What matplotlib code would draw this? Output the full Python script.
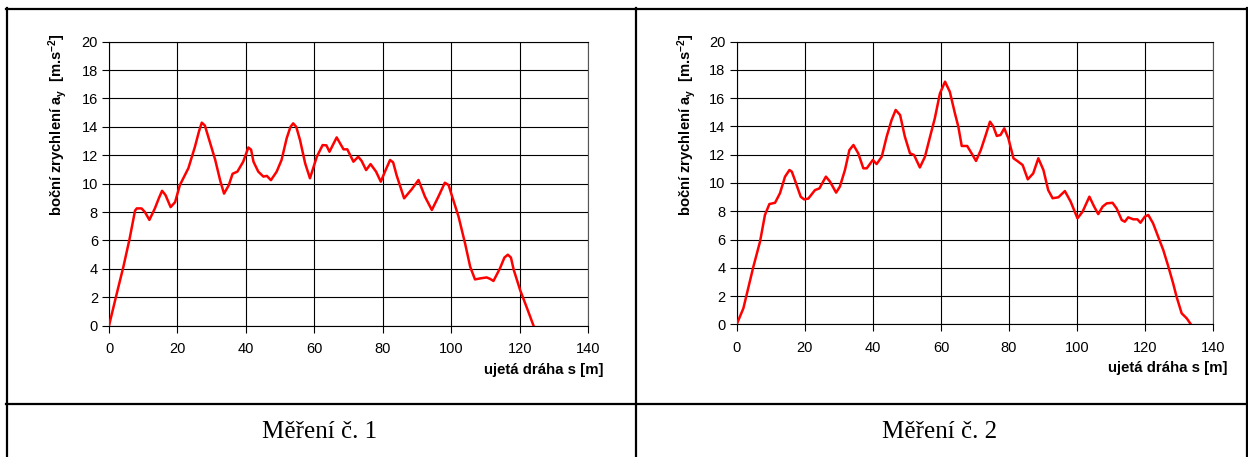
import matplotlib
matplotlib.use("Agg")
import matplotlib.pyplot as plt
from matplotlib.lines import Line2D

plt.rcParams['font.family'] = ['Liberation Sans', 'DejaVu Sans']
plt.rcParams['mathtext.fontset'] = 'custom'
plt.rcParams['mathtext.rm'] = 'Liberation Sans:bold'
plt.rcParams['mathtext.bf'] = 'Liberation Sans:bold'
plt.rcParams['mathtext.default'] = 'bf'

# ---- data ----
s1 = [0, 2.0, 4.2, 6.0, 7.6, 8.1, 9.5, 10.5, 11.8, 13.4, 14.6, 15.5, 16.5, 18.0, 19.3,
      20.7, 23.2, 25.1, 26.3, 27.1, 28.0, 29.0, 31.0, 32.5, 33.6, 35.0, 36.1, 37.5, 39.2,
      40.7, 41.5, 42.2, 43.6, 45.1, 46.1, 47.3, 48.98, 50.4, 51.9, 53.0, 53.8, 54.7, 55.8,
      57.3, 58.7, 60.7, 62.4, 63.5, 64.4, 66.5, 68.5, 69.6, 71.4, 72.8, 73.8, 75.1, 76.4,
      78.0, 79.4, 80.6, 82.1, 83.0, 84.0, 86.2, 88.4, 90.4, 92.3, 94.3, 96.2, 98.1, 99.2,
      100.1, 102.1, 104.0, 105.5, 106.9, 108.4, 110.3, 111.3, 112.3, 114.2, 115.5, 116.5,
      117.4, 118.2, 120.1, 122.0, 124.0]
a1 = [0, 2.0, 4.15, 6.1, 8.1, 8.26, 8.26, 8.0, 7.45, 8.26, 9.0, 9.5, 9.2, 8.35, 8.7,
      9.9, 11.1, 12.6, 13.7, 14.3, 14.1, 13.3, 11.7, 10.2, 9.3, 9.9, 10.7, 10.85, 11.55,
      12.55, 12.4, 11.55, 10.85, 10.5, 10.55, 10.25, 10.85, 11.67, 13.2, 14.0, 14.25, 14.0, 13.07,
      11.43, 10.38, 11.9, 12.72, 12.7, 12.25, 13.26, 12.42, 12.42, 11.55, 11.9, 11.6, 10.96, 11.38,
      10.85, 10.14, 10.85, 11.67, 11.5, 10.6, 8.97, 9.6, 10.26, 9.08, 8.15, 9.08, 10.07, 9.9,
      9.2, 7.68, 5.8, 4.15, 3.26, 3.33, 3.4, 3.3, 3.15, 4.04, 4.8, 5.0,
      4.8, 3.95, 2.5, 1.3, 0.0]

s2 = [0, 1.96, 4.9, 6.85, 8.3, 9.6, 11.26, 12.7, 14.2, 15.5, 16.2, 17.1, 18.8, 19.8, 21.05,
      23.0, 24.3, 26.2, 27.4, 29.2, 30.3, 31.8, 33.1, 34.3, 35.7, 37.2, 38.2, 40.0, 41.1,
      42.6, 44.05, 45.5, 46.7, 48.0, 49.4, 50.9, 52.1, 53.8, 55.3, 56.8, 58.2, 59.7, 61.2,
      62.6, 64.1, 65.1, 66.1, 67.7, 69.0, 70.3, 71.7, 73.0, 74.4, 75.4, 76.4, 77.5, 78.6,
      79.8, 81.3, 82.7, 84.0, 85.5, 87.1, 88.6, 90.1, 91.5, 92.8, 94.5, 96.4, 98.1, 100.1,
      101.6, 103.6, 105.0, 106.2, 107.5, 108.7, 110.4, 111.6, 113.1, 114.0, 115.0, 116.5,
      117.7, 118.6, 119.9, 120.9, 122.3, 123.8, 125.3, 126.8, 128.2, 129.2, 130.7, 132.2, 133.4]
a2 = [0, 1.13, 4.08, 5.85, 7.74, 8.51, 8.6, 9.27, 10.45, 10.92, 10.8, 10.2, 9.03, 8.84, 8.9,
      9.5, 9.62, 10.45, 10.1, 9.32, 9.74, 10.92, 12.33, 12.69, 12.1, 11.04, 11.04, 11.63, 11.34,
      11.86, 13.28, 14.46, 15.17, 14.81, 13.28, 12.1, 11.98, 11.1, 11.86, 13.28, 14.58, 16.34, 17.17,
      16.46, 14.93, 13.99, 12.62, 12.62, 12.1, 11.56, 12.33, 13.28, 14.34, 13.99, 13.33, 13.4, 13.87,
      13.16, 11.75, 11.51, 11.27, 10.26, 10.68, 11.75, 10.92, 9.5, 8.92, 8.99, 9.43, 8.68, 7.5,
      7.97, 9.03, 8.33, 7.8, 8.33, 8.56, 8.6, 8.2, 7.38, 7.26, 7.57, 7.43,
      7.43, 7.19, 7.62, 7.74, 7.15, 6.2, 5.26, 4.08, 2.9, 1.96, 0.78, 0.42, 0.0]

x_ticks = [0, 20, 40, 60, 80, 100, 120, 140]
y_ticks = [0, 2, 4, 6, 8, 10, 12, 14, 16, 18, 20]
y_label = "boční zrychlení a$_\\mathbf{y}$  [m.s$^\\mathbf{-2}$]"
x_label = "ujetá dráha s [m]"
captions = ["Měření č. 1", "Měření č. 2"]

W, H = 1248, 457
fig = plt.figure(figsize=(W / 100, H / 100), dpi=100)

def fx(px):
    return px / W

def fy(py):
    return 1 - py / H

# axes placement in pixels: (left, top, right, bottom)
boxes = [(109, 41.7, 588.3, 325.7), (736.7, 41.7, 1213.3, 324.3)]
series = [(s1, a1), (s2, a2)]
ylab_x = [58, 687]
xlab_right = [603, 1228]
xlab_y = [370, 368]
cap_x = [320, 940]

for i, ((l, t, r, b), (s, a)) in enumerate(zip(boxes, series)):
    ax = fig.add_axes([fx(l), fy(b), fx(r - l), (b - t) / H])
    ax.plot(s, a, color='#ff0000', lw=1.8, solid_joinstyle='round', zorder=3)
    ax.set_xlim(0, 140)
    ax.set_ylim(0, 20)
    ax.set_xticks(x_ticks)
    ax.set_yticks(y_ticks)
    ax.grid(True, color='black', lw=0.8)
    ax.set_axisbelow(True)
    for sp in ax.spines.values():
        sp.set_color('black')
        sp.set_linewidth(0.8)
    ax.spines['right'].set_color('#555555')
    ax.tick_params(direction='out', length=5, width=0.8, labelsize=10.5,
                   colors='black', pad=3)
    ax.tick_params(axis='x', pad=7)
    fig.text(fx(ylab_x[i]), fy(33), y_label, rotation=90, ha='center', va='top',
             fontsize=10.6, fontweight='bold')
    fig.text(fx(xlab_right[i]), fy(xlab_y[i]), x_label, ha='right', va='center',
             fontsize=10.8, fontweight='bold')
    fig.text(fx(cap_x[i]), fy(432), captions[i], ha='center', va='center',
             fontsize=18, family=['Liberation Serif', 'DejaVu Serif'])

# table borders
lw_tab = 1.6
def hline(y, x0, x1):
    fig.add_artist(Line2D([fx(x0), fx(x1)], [fy(y), fy(y)], color='black', lw=lw_tab))

def vline(x, y0, y1):
    fig.add_artist(Line2D([fx(x), fx(x)], [fy(y0), fy(y1)], color='black', lw=lw_tab))

hline(8.5, 6, 1248)
hline(404, 6, 1248)
vline(7, 8, 457)
vline(636, 8, 457)
vline(1247, 8, 457)

fig.savefig("out.png", dpi=100)
